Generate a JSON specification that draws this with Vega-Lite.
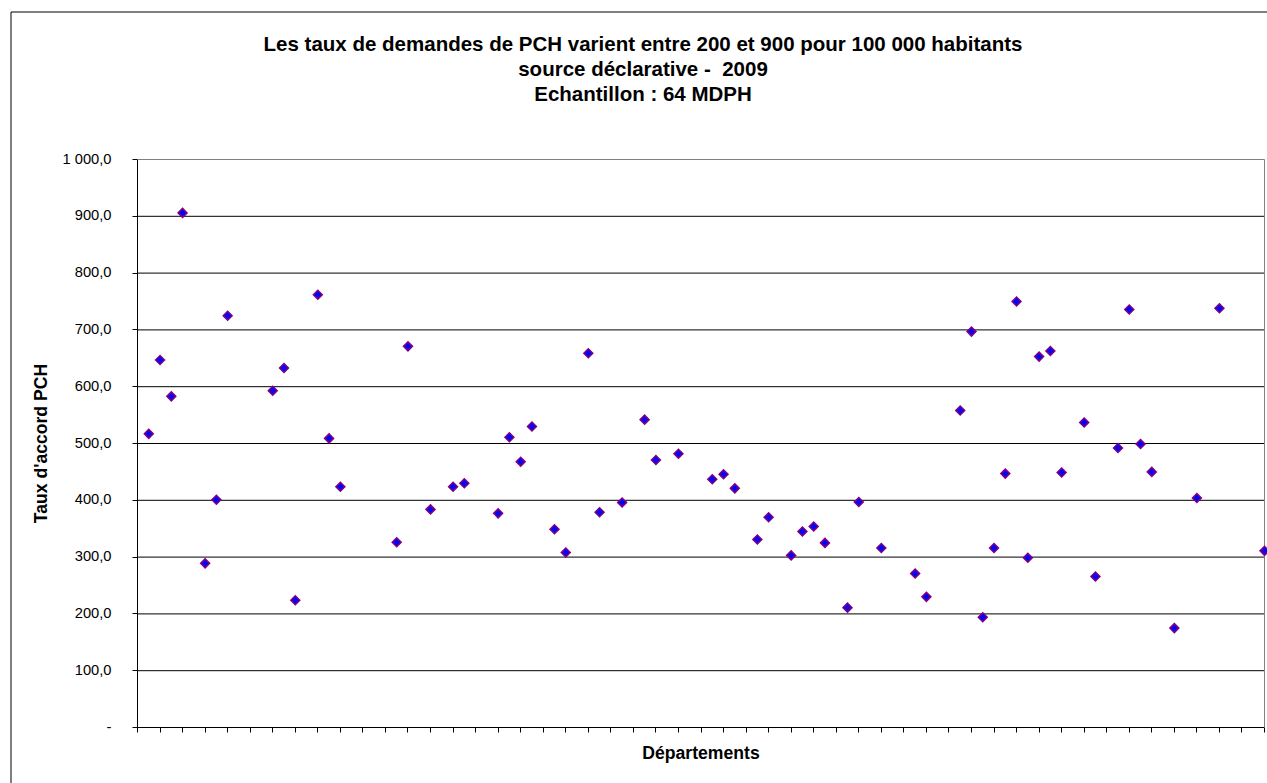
{
  "$schema": "https://vega.github.io/schema/vega-lite/v6.json",
  "autosize": "none",
  "padding": {"left": 10.5, "top": 11.5, "right": 0, "bottom": 0},
  "width": 1265,
  "height": 775,
  "background": "white",
  "title": {
    "text": ["Les taux de demandes de PCH varient entre 200 et 900 pour 100 000 habitants", "source déclarative -\u00a0 2009", "Echantillon : 64 MDPH"],
    "font": "Liberation Sans",
    "fontSize": 20.5,
    "fontWeight": "bold",
    "color": "#000000",
    "lineHeight": 25,
    "anchor": "middle",
    "frame": "group",
    "orient": "top",
    "baseline": "top",
    "offset": -94
  },
  "config": {
    "font": "Liberation Sans",
    "view": {"stroke": "#000000", "strokeWidth": 1},
    "axis": {"translate": 0}
  },
  "resolve": {"axis": {"x": "independent", "y": "independent"}},
  "datasets": {
    "points": [
      {"dept": 1, "taux": 517}, {"dept": 2, "taux": 647}, {"dept": 3, "taux": 583}, {"dept": 4, "taux": 906},
      {"dept": 6, "taux": 289}, {"dept": 7, "taux": 401}, {"dept": 8, "taux": 725}, {"dept": 12, "taux": 593},
      {"dept": 13, "taux": 633}, {"dept": 14, "taux": 224}, {"dept": 16, "taux": 762}, {"dept": 17, "taux": 509},
      {"dept": 18, "taux": 424}, {"dept": 23, "taux": 326}, {"dept": 24, "taux": 671}, {"dept": 26, "taux": 384},
      {"dept": 28, "taux": 424}, {"dept": 29, "taux": 430}, {"dept": 32, "taux": 377}, {"dept": 33, "taux": 511},
      {"dept": 34, "taux": 468}, {"dept": 35, "taux": 530}, {"dept": 37, "taux": 349}, {"dept": 38, "taux": 308},
      {"dept": 40, "taux": 659}, {"dept": 41, "taux": 379}, {"dept": 43, "taux": 396}, {"dept": 45, "taux": 542},
      {"dept": 46, "taux": 471}, {"dept": 48, "taux": 482}, {"dept": 51, "taux": 437}, {"dept": 52, "taux": 446},
      {"dept": 53, "taux": 421}, {"dept": 55, "taux": 331}, {"dept": 56, "taux": 370}, {"dept": 58, "taux": 303},
      {"dept": 59, "taux": 345}, {"dept": 60, "taux": 354}, {"dept": 61, "taux": 325}, {"dept": 63, "taux": 211},
      {"dept": 64, "taux": 397}, {"dept": 66, "taux": 316}, {"dept": 69, "taux": 271}, {"dept": 70, "taux": 230},
      {"dept": 73, "taux": 558}, {"dept": 74, "taux": 697}, {"dept": 75, "taux": 194}, {"dept": 76, "taux": 316},
      {"dept": 77, "taux": 447}, {"dept": 78, "taux": 750}, {"dept": 79, "taux": 299}, {"dept": 80, "taux": 653},
      {"dept": 81, "taux": 663}, {"dept": 82, "taux": 449}, {"dept": 84, "taux": 537}, {"dept": 85, "taux": 266},
      {"dept": 87, "taux": 492}, {"dept": 88, "taux": 736}, {"dept": 89, "taux": 499}, {"dept": 90, "taux": 450},
      {"dept": 92, "taux": 175}, {"dept": 94, "taux": 404}, {"dept": 96, "taux": 738}, {"dept": 100, "taux": 311}
    ],
    "grid": [
      {"v": 100}, {"v": 200}, {"v": 300}, {"v": 400}, {"v": 500},
      {"v": 600}, {"v": 700}, {"v": 800}, {"v": 900}, {"v": 1000}
    ],
    "one": [{"k": 1}]
  },
  "layer": [
    {
      "data": {"name": "grid"},
      "mark": {"type": "rule", "strokeWidth": 1},
      "encoding": {
        "y": {"field": "v", "type": "quantitative", "scale": {"domain": [0, 1000], "range": [716, 148], "nice": false, "zero": false}, "axis": null},
        "x": {"datum": 0, "type": "quantitative", "scale": {"domain": [0, 100], "range": [127, 1254], "nice": false, "zero": false}, "axis": null},
        "x2": {"datum": 100},
        "stroke": {"condition": {"test": "datum.v == 1000", "value": "#808080"}, "value": "#000000"}
      }
    },
    {
      "data": {"name": "one"},
      "mark": {"type": "rule", "stroke": "#808080", "strokeWidth": 1},
      "encoding": {
        "x": {"datum": 100, "type": "quantitative", "axis": null},
        "y": {"datum": 0, "type": "quantitative", "axis": null},
        "y2": {"datum": 1000}
      }
    },
    {
      "data": {"name": "points"},
      "mark": {"type": "point", "shape": "diamond", "filled": true, "fill": "#0000FF", "stroke": "#800080", "strokeWidth": 1.5, "size": 80, "opacity": 1},
      "encoding": {
        "x": {
          "field": "dept", "type": "quantitative",
          "axis": {
            "orient": "bottom", "offset": -59,
            "values": [0,2,4,6,8,10,12,14,16,18,20,22,24,26,28,30,32,34,36,38,40,42,44,46,48,50,52,54,56,58,60,62,64,66,68,70,72,74,76,78,80,82,84,86,88,90,92,94,96,98,100],
            "labels": false, "grid": false,
            "domainColor": "#000000", "tickColor": "#000000", "tickSize": 5,
            "title": "Départements", "titleFont": "Liberation Sans", "titleFontSize": 17.6, "titleFontWeight": "bold", "titleColor": "#000000", "titlePadding": 12
          }
        },
        "y": {
          "field": "taux", "type": "quantitative",
          "axis": {
            "orient": "left", "offset": -127,
            "values": [0,100,200,300,400,500,600,700,800,900,1000],
            "grid": false,
            "domainColor": "#000000", "tickColor": "#000000", "tickSize": 5,
            "labelFont": "Liberation Sans", "labelFontSize": 14.7, "labelColor": "#000000", "labelPadding": 21,
            "labelOverlap": false, "labelBound": false, "labelFlush": false,
            "labelExpr": "datum.value == 0 ? '-\u00a0\u00a0\u00a0\u00a0' : replace(replace(format(datum.value, ',.1f'), ',', ' '), '.', ',')",
            "title": "Taux d'accord PCH", "titleFont": "Liberation Sans", "titleFontSize": 17.6, "titleFontWeight": "bold", "titleColor": "#000000", "titlePadding": 11
          }
        }
      }
    }
  ]
}
